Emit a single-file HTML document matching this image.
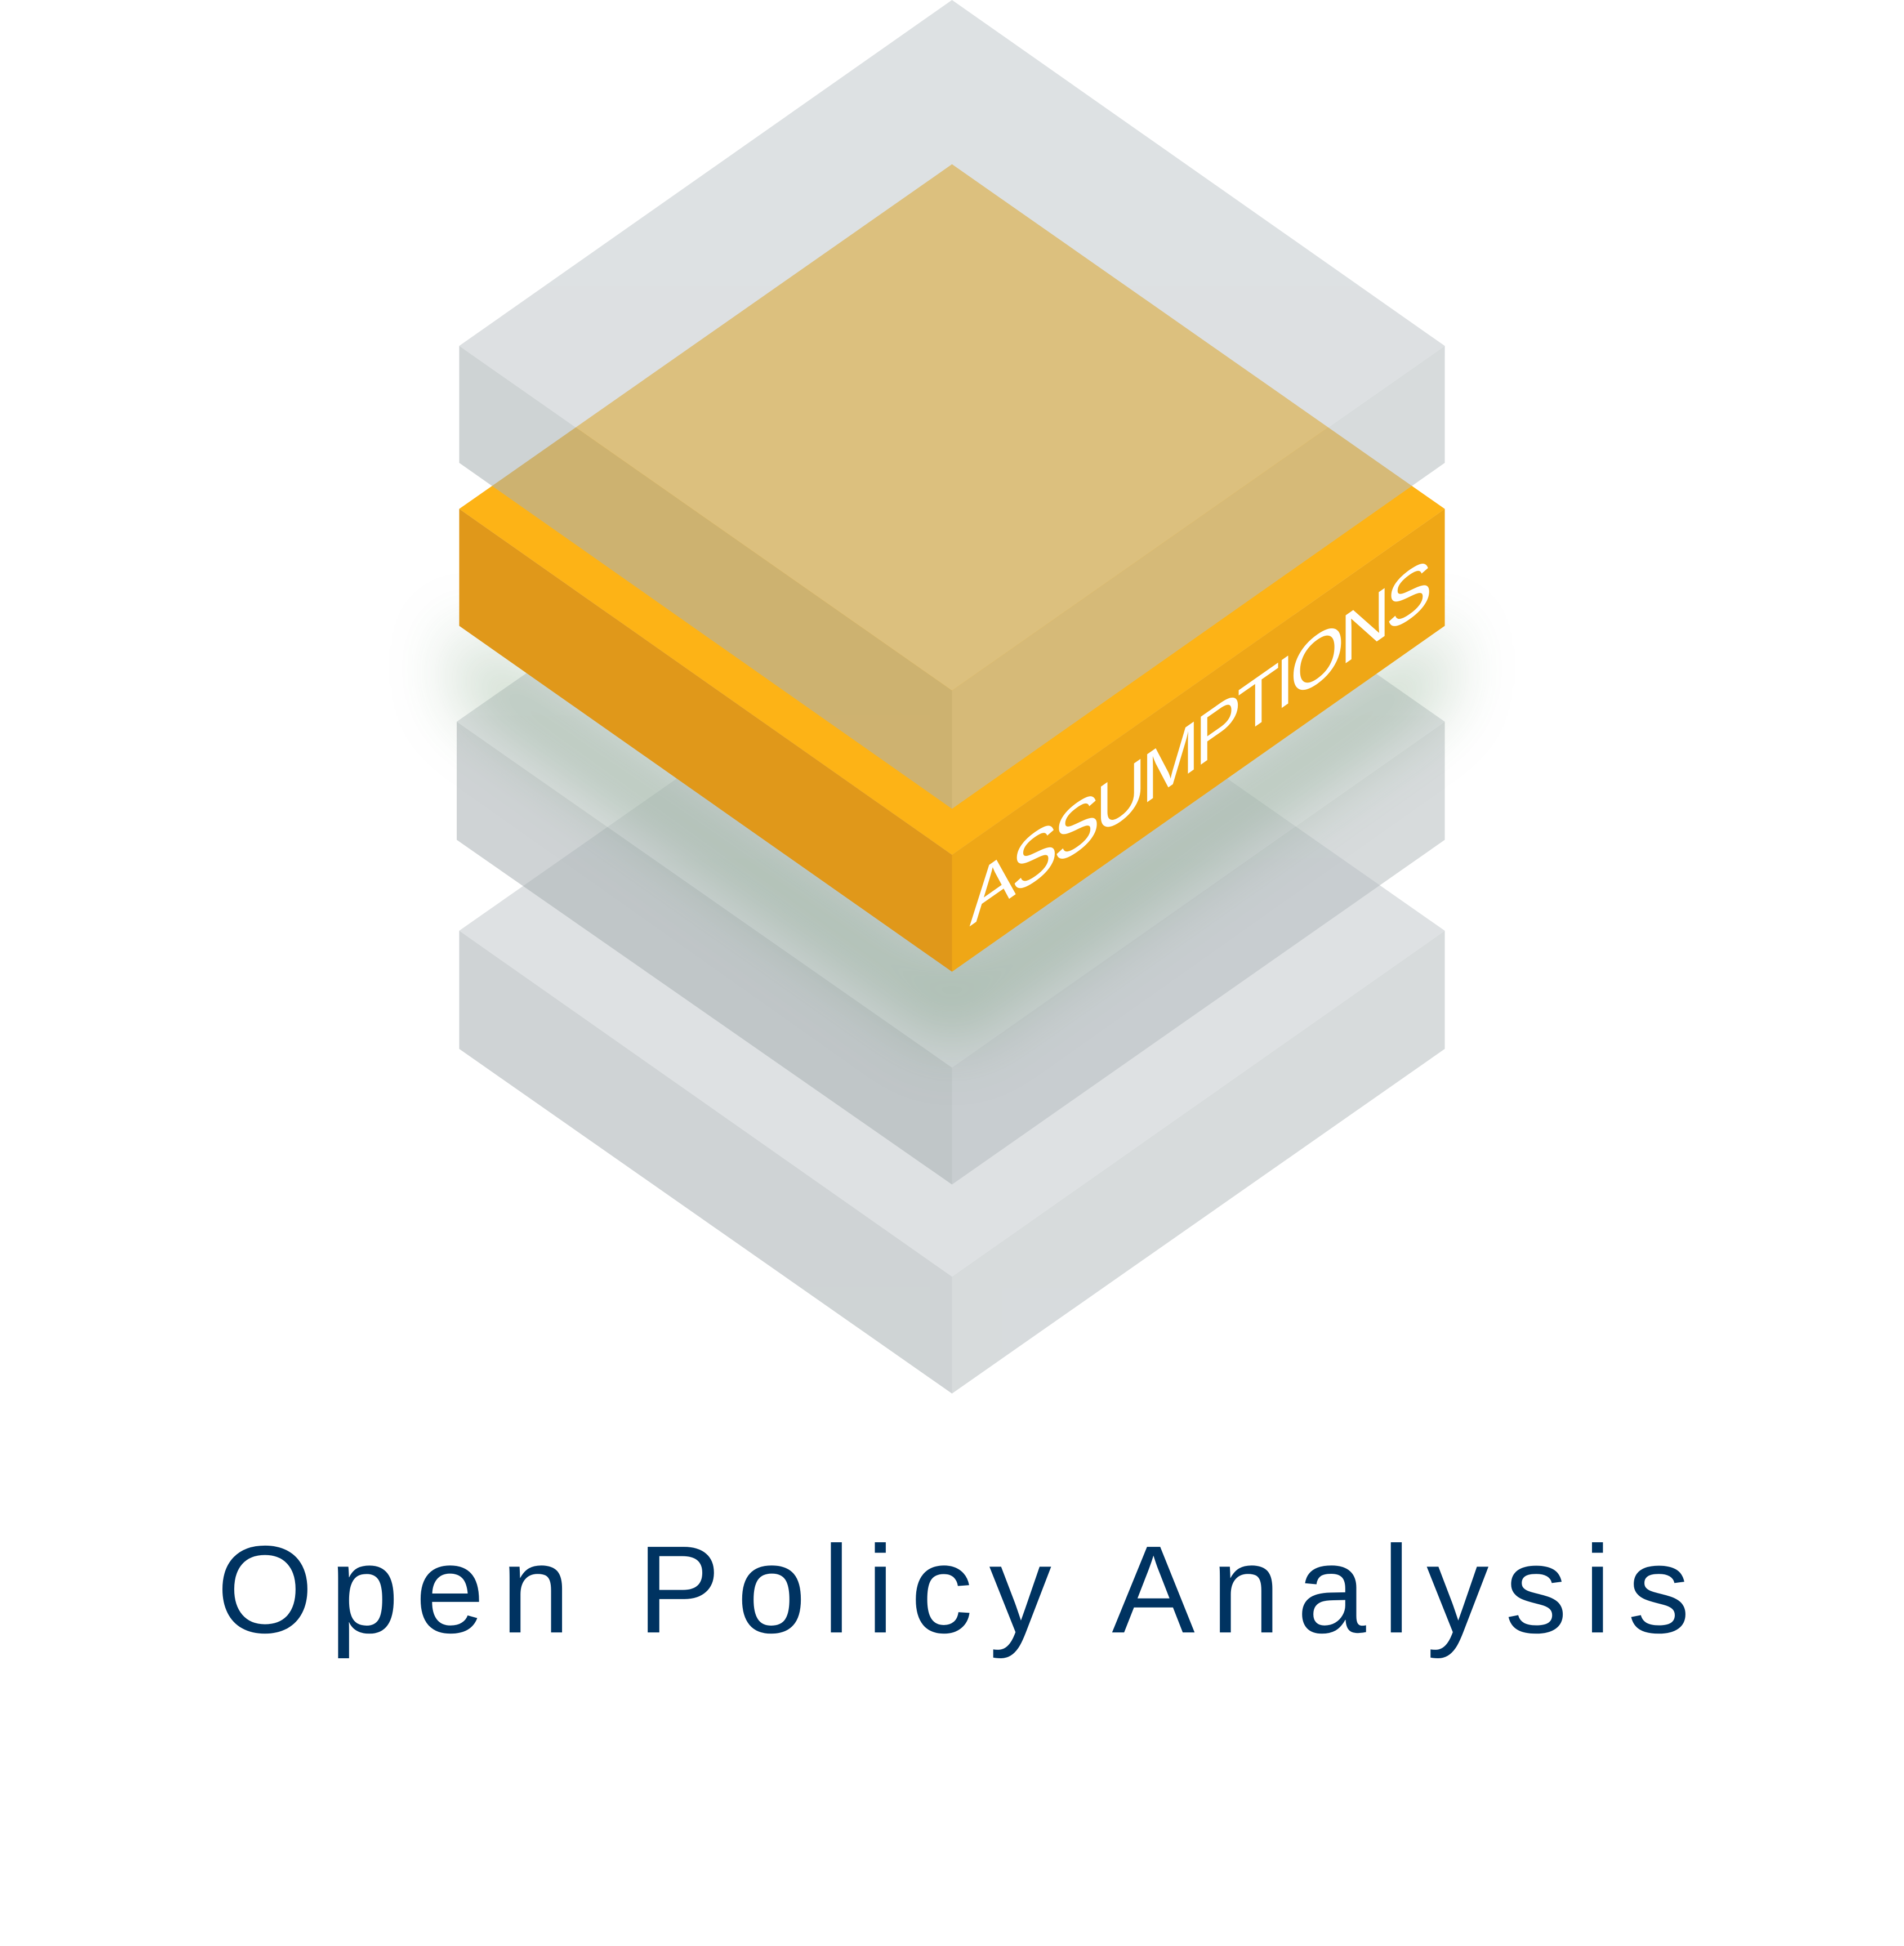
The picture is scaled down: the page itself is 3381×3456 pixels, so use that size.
<!DOCTYPE html>
<html><head><meta charset="utf-8"><style>html,body{margin:0;padding:0;background:#fff}svg{display:block}</style></head>
<body>
<svg width="3381" height="3456" viewBox="0 0 1530 1564" xmlns="http://www.w3.org/2000/svg">
<defs>
<filter id="b" x="-50%" y="-50%" width="200%" height="200%"><feGaussianBlur stdDeviation="28"/></filter>
</defs>
<rect width="1530" height="1564" fill="#fff"/>
<g opacity="0.55">
<polygon points="765,471 1161,748 765,1026 369,748" fill="#c4cacd"/>
<polygon points="369,748 765,1026 765,1120 369,843" fill="#a8b0b3"/>
<polygon points="765,1026 1161,748 1161,843 765,1120" fill="#b7bec1"/>
</g>
<g opacity="0.55">
<polygon points="765,303 1161,580 765,858 367,580" fill="#c4cacd"/>
<polygon points="367,580 765,858 765,952 367,675" fill="#a8b0b3"/>
<polygon points="765,858 1161,580 1161,675 765,952" fill="#b7bec1"/>
</g>
<polygon points="369,503 765,781 1161,503 1161,560 765,840 369,560" fill="#5e8c62" opacity="0.38" filter="url(#b)"/>
<polygon points="765,132 1161,409 765,687 369,409" fill="#fdb316"/>
<polygon points="369,409 765,687 765,781 369,503" fill="#e0981a"/>
<polygon points="765,687 1161,409 1161,503 765,781" fill="#efa716"/>
<text transform="matrix(1,-0.70,0,1,0,0)" x="779" y="1290" font-family="Liberation Sans, sans-serif" font-size="56" fill="#fff" textLength="372" lengthAdjust="spacing">ASSUMPTIONS</text>
<g opacity="0.57">
<polygon points="765,0 1161,278 765,555 369,278" fill="#c4cacd"/>
<polygon points="369,278 765,555 765,650 369,372" fill="#aab2b5"/>
<polygon points="765,555 1161,278 1161,372 765,650" fill="#b9c0c3"/>
</g>
<text x="174" y="1312" font-family="Liberation Sans, sans-serif" font-size="100" fill="#003361" textLength="1184" lengthAdjust="spacing">Open Policy Analysis</text>
</svg>
</body></html>
